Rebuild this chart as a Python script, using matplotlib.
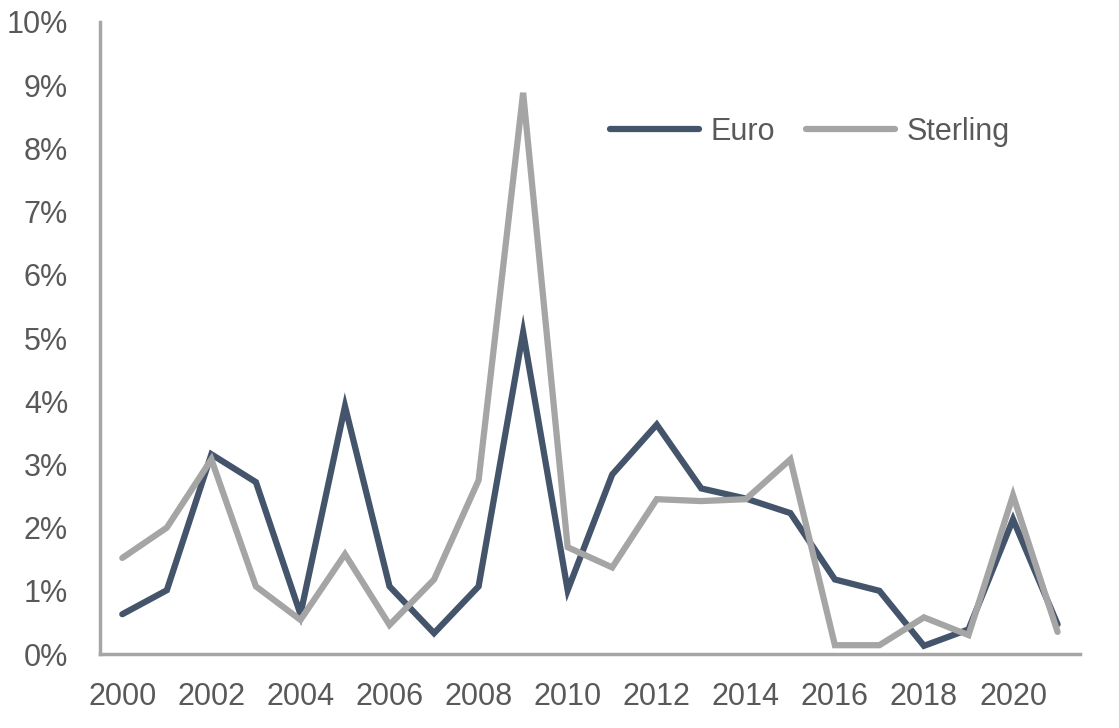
import matplotlib
matplotlib.use("Agg")
from matplotlib import pyplot as plt
from matplotlib.ticker import FuncFormatter

years = list(range(2000, 2022))
euro = [0.63, 1.01, 3.16, 2.72, 0.63, 3.92, 1.07, 0.33, 1.07, 5.09, 1.01,
        2.84, 3.63, 2.62, 2.46, 2.23, 1.18, 1.00, 0.13, 0.39, 2.13, 0.47]
sterling = [1.52, 2.00, 3.08, 1.07, 0.54, 1.58, 0.46, 1.18, 2.75, 8.88, 1.69,
            1.37, 2.45, 2.42, 2.45, 3.08, 0.14, 0.14, 0.58, 0.30, 2.51, 0.35]

plt.rcParams["font.family"] = ["Liberation Sans", "DejaVu Sans"]

text_col = "#595959"
fig = plt.figure(figsize=(11.19, 7.28), dpi=100)
ax = fig.add_axes([0.0894, 0.1016, 0.8756, 0.8682])

ax.plot(years, euro, color="#44546A", lw=4.5, solid_capstyle="round",
        solid_joinstyle="miter", label="Euro")
ax.plot(years, sterling, color="#A5A5A5", lw=4.5, solid_capstyle="round",
        solid_joinstyle="miter", label="Sterling")

ax.set_xlim(1999.5, 2021.5)
ax.set_ylim(0, 10)
ax.set_xticks(years[::2])
ax.set_yticks(range(0, 11))
ax.yaxis.set_major_formatter(FuncFormatter(lambda v, p: f"{v:.0f}%"))
ax.tick_params(length=0, labelsize=22, colors=text_col)
ax.tick_params(axis="x", pad=20)
ax.tick_params(axis="y", pad=23)

for s in ["top", "right"]:
    ax.spines[s].set_visible(False)
for s in ["left", "bottom"]:
    ax.spines[s].set_color("#A6A6A6")
    ax.spines[s].set_linewidth(2.5)

ax.legend(loc="center left", bbox_to_anchor=(0.505, 0.826), ncol=2, frameon=False,
          fontsize=22, handlelength=2.9, handletextpad=0.4, columnspacing=1.0,
          borderpad=0, labelcolor=text_col)

fig.savefig("out.png", dpi=100)
